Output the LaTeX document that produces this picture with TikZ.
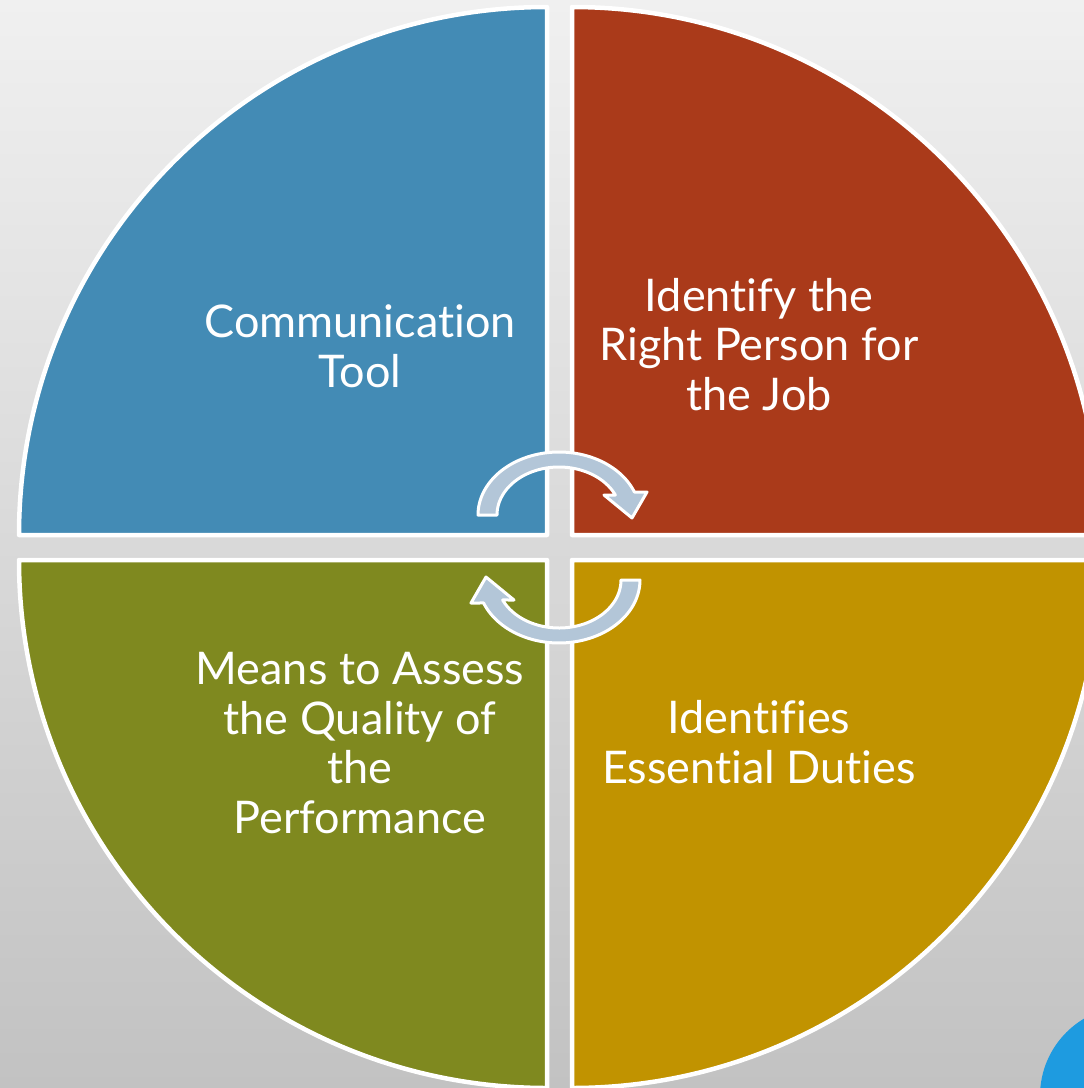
\documentclass[tikz,border=0pt]{standalone}
\usepackage{fontspec}
\setmainfont{Lato}[Ligatures=NoCommon]
\definecolor{qblue}{HTML}{438BB5}
\definecolor{qred}{HTML}{AA3A1A}
\definecolor{qgreen}{HTML}{7F891F}
\definecolor{qgold}{HTML}{C19300}
\definecolor{arrowfill}{HTML}{B3C6D8}
\definecolor{bgtop}{HTML}{F0F0F0}
\definecolor{bgbot}{HTML}{C2C2C2}
\definecolor{cornerblue}{HTML}{1E9BE0}
\tikzset{
  quad/.style={draw=white, line width=4.5pt, line join=round},
  cyclearrow/.style={draw=white, fill=arrowfill, line width=3pt, line join=round},
  label/.style={text=white, align=center, anchor=base, inner sep=0pt,
    font=\fontsize{45}{49.5}\selectfont}
}
\begin{document}
\begin{tikzpicture}[x=1pt,y=-1pt]
\useasboundingbox (0,0) rectangle (1084,1088);
\shade[top color=bgtop, bottom color=bgbot] (0,0) rectangle (1084,1088);
\clip (0,0) rectangle (1084,1088);
\fill[cornerblue] (1130,1096) circle[radius=90];
% quadrants
\draw[quad, fill=qblue] (547,535) -- (19,535) arc[start angle=180, end angle=270, radius=528] -- cycle;
\draw[quad, fill=qred] (572,535) -- (572,7) arc[start angle=270, end angle=360, radius=528] -- cycle;
\draw[quad, fill=qgold] (572,560) -- (1100,560) arc[start angle=0, end angle=90, radius=528] -- cycle;
\draw[quad, fill=qgreen] (547,560) -- (547,1088) arc[start angle=90, end angle=180, radius=528] -- cycle;
% circular arrows
\draw[cyclearrow] plot[domain=180:21.4, samples=60] ({559+81*cos(\x)}, {515-63*sin(\x)})
  -- (647,492) -- (632,518) -- (604,495)
  -- plot[domain=24.6:180, samples=60] ({559+62*cos(\x)}, {515-48*sin(\x)}) -- cycle;
\begin{scope}[rotate around={180:(559,547.5)}]
\draw[cyclearrow] plot[domain=180:21.4, samples=60] ({559+81*cos(\x)}, {515-63*sin(\x)})
  -- (647,492) -- (632,518) -- (604,495)
  -- plot[domain=24.6:180, samples=60] ({559+62*cos(\x)}, {515-48*sin(\x)}) -- cycle;
\end{scope}
% labels (anchor base = baseline of the last line)
\node[label] (comm) at (360,387) {Communication\\Tool};
\node[label] (ident) at (759,410) {Identify the\\Right Person for\\the Job};
\node[label] (means) at (360,833) {Means to Assess\\the Quality of\\the\\Performance};
\node[label] (duties) at (759,783) {Identifies\\Essential Duties};
\end{tikzpicture}
\end{document}
